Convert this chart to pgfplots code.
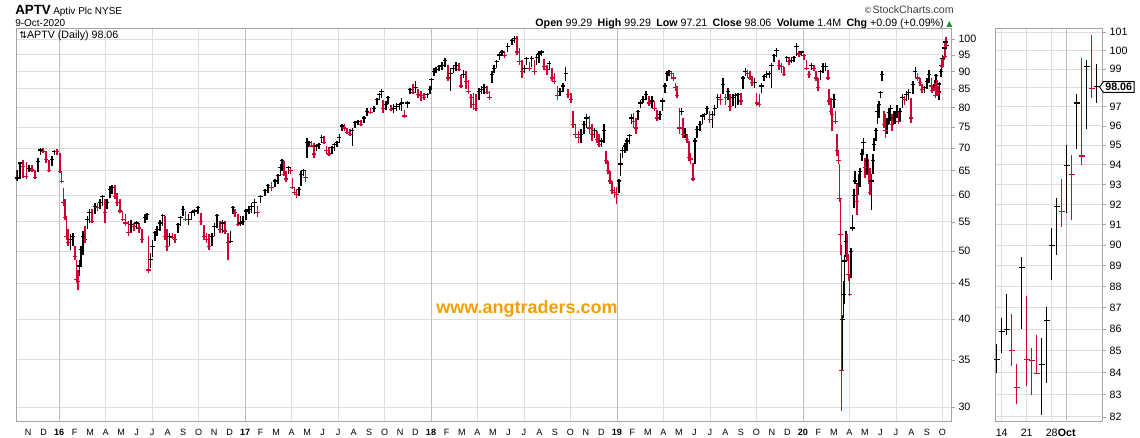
\documentclass[border=0pt]{standalone}
\usepackage{fontspec}
\setmainfont{Liberation Sans}
\newfontfamily\dejavu{DejaVu Sans}
\usepackage{pgfplots}
\usepackage{pgfplotstable}
\pgfplotsset{compat=1.18}
\usetikzlibrary{shapes.symbols}
\definecolor{barred}{RGB}{210,0,50}
\definecolor{gridc}{RGB}{222,222,222}
\definecolor{yearc}{RGB}{190,190,190}
\definecolor{framec}{RGB}{165,165,165}
\definecolor{wmark}{RGB}{245,160,0}
\definecolor{upgreen}{RGB}{40,140,40}

\pgfplotstableread{
t hi lo cl
2015.774 65.2 62.8 63.5
2015.789 67.0 63.2 66.7
2015.806 67.4 63.5 66.0
2015.823 67.0 63.2 63.9
2015.839 66.3 64.8 65.5
2015.855 66.3 64.8 65.2
2015.871 65.2 63.2 63.6
2015.885 67.8 64.8 67.0
2015.900 70.0 68.5 69.6
2015.914 70.1 68.9 69.3
2015.928 69.3 66.7 67.4
2015.944 67.4 64.8 65.0
2015.961 68.2 66.0 67.4
2015.975 69.6 68.5 69.3
2015.989 69.8 68.5 69.2
2016.004 68.9 64.5 64.9
2016.013 64.9 62.5 62.8
2016.022 61.5 57.9 58.6
2016.030 59.2 55.4 55.8
2016.039 56.1 51.9 52.5
2016.048 53.7 50.8 51.4
2016.061 52.8 50.2 51.9
2016.073 53.1 50.8 52.5
2016.084 50.8 48.6 49.1
2016.093 48.6 45.0 45.5
2016.100 47.0 44.0 45.2
2016.109 48.6 46.0 47.6
2016.118 50.8 47.6 50.2
2016.129 53.4 49.4 52.5
2016.140 54.2 51.4 51.9
2016.151 56.1 53.7 55.4
2016.163 57.3 54.8 56.7
2016.177 57.3 54.8 55.1
2016.192 58.6 56.4 57.9
2016.206 58.6 57.0 57.6
2016.219 59.2 57.3 58.6
2016.233 60.1 57.9 59.8
2016.246 59.2 54.8 56.7
2016.258 59.2 57.3 58.6
2016.272 61.8 59.5 61.1
2016.285 62.0 60.2 61.5
2016.299 62.0 59.2 59.8
2016.312 60.5 57.9 58.6
2016.326 59.2 56.7 57.0
2016.341 57.0 55.1 55.4
2016.357 56.4 54.2 54.8
2016.373 55.1 52.5 53.1
2016.387 55.4 53.1 54.5
2016.401 54.8 53.4 54.2
2016.416 55.1 53.7 54.8
2016.430 54.8 53.1 53.9
2016.446 53.7 51.4 51.9
2016.461 56.4 54.8 55.8
2016.473 56.7 55.4 56.4
2016.480 52.5 46.5 47.0
2016.491 49.6 47.3 48.6
2016.502 51.9 49.1 50.8
2016.514 53.4 51.6 53.1
2016.527 54.2 52.5 53.7
2016.541 55.4 53.4 54.8
2016.556 56.4 54.2 56.1
2016.568 56.1 51.9 52.5
2016.581 53.7 50.0 50.8
2016.593 53.1 50.8 52.5
2016.608 53.1 52.0 52.2
2016.624 52.8 51.4 51.9
2016.638 54.8 53.1 54.5
2016.652 56.1 54.2 55.8
2016.665 57.9 56.1 57.3
2016.679 57.0 55.1 55.4
2016.695 56.4 54.5 55.4
2016.711 57.0 55.4 56.7
2016.728 57.3 56.1 57.0
2016.746 57.9 56.4 57.6
2016.762 56.7 54.5 55.1
2016.778 54.5 51.9 52.5
2016.792 53.1 51.4 51.9
2016.806 52.8 50.2 50.8
2016.821 53.1 50.8 52.5
2016.835 54.8 52.5 54.2
2016.849 56.4 53.9 56.1
2016.864 55.1 53.1 53.7
2016.878 55.4 53.1 54.8
2016.892 55.1 52.8 53.4
2016.907 53.1 48.6 51.4
2016.921 53.4 51.4 51.6
2016.934 57.9 56.4 57.6
2016.946 57.3 55.8 56.7
2016.961 56.4 54.2 54.5
2016.975 56.1 54.2 54.8
2016.989 56.1 54.5 55.1
2017.005 57.3 55.4 57.0
2017.020 57.9 56.4 57.3
2017.034 58.6 56.7 57.9
2017.050 59.2 56.4 58.6
2017.066 57.9 55.8 56.7
2017.082 60.1 58.6 59.8
2017.106 61.2 59.9 60.9
2017.123 62.3 60.5 61.9
2017.141 62.6 60.9 61.6
2017.159 63.3 61.6 62.9
2017.177 64.3 62.3 64.0
2017.190 66.5 64.0 65.7
2017.199 67.6 65.0 67.2
2017.209 67.2 64.0 64.3
2017.220 65.0 62.6 63.3
2017.233 66.1 64.3 65.7
2017.243 65.7 64.3 65.0
2017.254 63.6 61.2 61.6
2017.265 61.6 60.2 60.5
2017.275 61.2 59.5 60.2
2017.288 61.6 59.9 61.2
2017.301 65.0 61.9 64.3
2017.313 65.4 64.0 65.0
2017.324 65.0 62.6 63.6
2017.333 72.5 67.9 71.3
2017.343 71.7 70.2 71.3
2017.356 71.7 70.2 70.5
2017.370 71.3 67.9 68.7
2017.383 70.9 69.4 70.5
2017.397 71.3 69.9 70.9
2017.411 73.1 71.3 72.5
2017.424 72.9 70.9 71.3
2017.436 70.5 68.7 69.4
2017.451 70.2 68.3 68.7
2017.465 70.5 68.7 70.2
2017.479 71.3 69.4 70.9
2017.494 71.7 70.2 71.3
2017.506 73.3 71.3 72.5
2017.519 75.7 74.1 75.3
2017.533 75.8 74.1 74.8
2017.547 74.8 73.3 73.7
2017.562 74.5 72.9 73.3
2017.576 74.8 70.5 74.1
2017.590 76.5 74.8 76.1
2017.606 76.9 75.5 76.5
2017.623 76.7 75.3 75.7
2017.639 77.8 76.1 77.3
2017.655 79.8 77.8 79.0
2017.673 79.8 78.2 78.6
2017.691 80.3 78.8 79.8
2017.707 82.4 80.7 82.1
2017.721 84.0 82.1 83.5
2017.732 84.9 82.6 84.4
2017.742 82.1 78.6 79.8
2017.757 81.7 79.4 80.7
2017.769 83.1 80.9 82.6
2017.784 80.7 79.0 79.4
2017.798 80.9 78.6 79.8
2017.814 81.2 79.0 80.3
2017.830 81.2 79.4 80.7
2017.841 82.4 79.0 81.2
2017.857 79.4 77.3 77.8
2017.873 81.7 79.8 81.2
2017.887 85.4 83.5 84.9
2017.902 86.3 83.5 84.0
2017.916 87.2 84.0 85.4
2017.930 84.9 82.6 83.5
2017.946 84.4 81.7 83.1
2017.962 84.0 82.1 82.6
2017.979 84.0 82.4 83.5
2017.993 85.8 83.5 84.9
2018.002 88.1 84.9 87.6
2018.014 91.0 88.6 90.0
2018.027 91.4 89.5 90.5
2018.043 91.9 90.0 91.4
2018.059 92.9 90.5 91.9
2018.075 94.0 91.4 93.4
2018.089 91.9 87.2 88.1
2018.104 91.0 84.4 89.5
2018.120 91.9 89.5 91.0
2018.134 92.7 90.0 91.9
2018.148 92.5 90.0 90.5
2018.159 89.1 85.4 85.8
2018.174 90.5 88.1 89.1
2018.186 90.0 84.9 87.2
2018.200 87.6 83.5 84.4
2018.215 83.5 79.8 82.6
2018.227 84.0 79.4 80.7
2018.242 83.5 79.0 79.8
2018.256 85.4 82.1 84.4
2018.270 85.8 83.5 84.9
2018.284 86.3 83.5 85.4
2018.299 85.8 83.5 84.0
2018.313 84.4 82.1 82.6
2018.326 90.0 86.8 89.1
2018.338 91.9 89.5 91.0
2018.352 93.3 91.1 92.9
2018.367 95.9 93.4 95.0
2018.381 96.6 94.8 95.9
2018.395 96.4 94.1 94.8
2018.411 98.7 95.9 97.6
2018.433 100.2 98.1 99.6
2018.447 101.0 98.9 100.2
2018.462 101.2 95.0 95.9
2018.474 97.1 91.9 92.9
2018.488 93.4 88.1 90.0
2018.501 91.9 89.5 91.0
2018.513 94.3 91.9 93.8
2018.528 92.9 90.0 91.0
2018.540 94.8 91.4 93.8
2018.555 93.4 89.1 90.0
2018.567 95.3 91.9 94.3
2018.581 96.4 92.5 95.3
2018.594 96.6 94.8 95.9
2018.606 93.8 90.5 91.4
2018.621 91.9 89.1 90.5
2018.635 93.1 90.5 92.4
2018.648 91.0 87.2 88.1
2018.662 89.5 86.3 87.2
2018.678 85.8 82.1 83.1
2018.692 85.4 83.1 84.4
2018.707 86.8 84.2 85.8
2018.723 91.2 87.2 89.5
2018.735 84.9 82.6 83.5
2018.750 84.0 81.2 82.1
2018.762 79.0 74.8 75.7
2018.776 75.7 72.5 73.3
2018.791 74.1 71.3 72.5
2018.805 74.5 71.3 73.3
2018.821 76.5 73.3 75.7
2018.835 78.3 74.8 77.3
2018.850 77.8 73.3 74.8
2018.864 75.7 71.7 73.3
2018.878 74.8 72.5 74.1
2018.891 74.1 71.3 72.1
2018.903 73.3 70.2 70.9
2018.916 72.5 70.2 71.7
2018.928 75.7 71.3 74.1
2018.939 69.4 66.5 67.2
2018.950 67.2 64.3 65.0
2018.961 65.0 62.3 62.9
2018.973 62.9 60.2 60.9
2018.986 61.6 59.5 60.5
2018.996 61.6 58.3 60.2
2019.009 63.3 60.5 62.9
2019.018 69.0 64.0 66.5
2019.029 70.2 67.9 69.4
2019.041 71.3 69.0 70.5
2019.054 72.5 69.4 71.7
2019.066 73.3 70.9 72.9
2019.077 78.2 75.7 77.3
2019.088 78.6 74.8 76.5
2019.100 77.3 73.3 74.8
2019.113 79.4 76.9 79.0
2019.125 82.1 79.8 81.2
2019.140 83.1 81.2 82.1
2019.156 84.4 82.1 83.5
2019.170 83.1 80.3 81.2
2019.186 83.1 79.8 81.7
2019.200 81.7 79.0 79.8
2019.215 79.4 76.5 77.3
2019.229 79.0 76.9 78.2
2019.243 82.6 79.0 81.7
2019.256 86.8 84.0 85.8
2019.268 90.2 87.2 89.5
2019.279 90.5 88.6 90.0
2019.292 90.2 88.1 89.5
2019.302 89.5 87.2 88.1
2019.313 86.8 84.4 85.4
2019.322 85.8 82.6 83.1
2019.335 79.8 73.3 74.8
2019.345 79.8 78.0 79.0
2019.354 77.3 72.5 73.3
2019.365 74.8 72.3 73.3
2019.376 73.3 71.3 72.1
2019.386 71.7 67.2 67.9
2019.395 69.0 66.5 67.6
2019.408 66.6 62.9 63.3
2019.417 72.5 66.5 71.7
2019.429 75.3 72.5 74.5
2019.444 76.5 74.1 75.7
2019.458 78.2 75.7 77.8
2019.470 78.6 76.9 78.2
2019.483 80.3 78.2 79.8
2019.497 79.0 76.1 76.9
2019.512 79.0 74.8 78.2
2019.524 80.7 77.8 79.8
2019.540 83.5 79.8 82.6
2019.555 83.5 80.7 82.1
2019.569 88.1 83.5 86.3
2019.583 83.5 80.7 82.6
2019.596 85.4 82.1 84.4
2019.608 83.5 79.0 80.3
2019.623 83.5 80.3 82.6
2019.637 84.0 79.8 83.1
2019.651 84.0 80.7 83.5
2019.665 84.0 80.7 81.7
2019.676 88.6 84.9 88.1
2019.689 91.0 88.6 90.0
2019.701 90.5 88.1 89.5
2019.714 90.0 87.6 88.1
2019.726 88.6 85.8 86.8
2019.739 88.1 85.4 86.8
2019.750 84.0 80.3 81.2
2019.764 83.5 80.0 80.7
2019.776 86.8 84.0 85.8
2019.789 89.1 87.2 88.6
2019.803 90.0 88.1 89.1
2019.818 90.0 88.1 89.5
2019.830 92.4 85.4 91.9
2019.843 95.3 92.9 94.8
2019.857 97.2 94.3 96.4
2019.871 93.4 90.5 91.9
2019.884 92.4 89.5 91.4
2019.896 91.4 88.6 89.1
2019.911 94.8 92.9 94.3
2019.925 94.3 91.9 92.9
2019.937 94.3 92.4 93.4
2019.950 94.8 92.9 94.3
2019.964 98.9 94.8 97.6
2019.979 96.4 94.3 95.3
2019.991 96.4 94.8 95.9
2020.005 95.3 93.4 94.8
2020.018 93.4 90.5 91.0
2020.032 90.0 88.1 89.1
2020.045 92.4 90.5 91.9
2020.057 91.9 90.0 91.0
2020.070 90.0 87.2 88.1
2020.081 88.1 84.4 85.4
2020.093 90.5 87.6 90.0
2020.107 92.4 89.5 91.4
2020.120 92.4 90.0 91.4
2020.132 90.5 87.6 88.1
2020.140 84.9 80.7 81.7
2020.148 82.6 78.2 79.0
2020.156 79.8 74.1 78.2
2020.165 83.5 79.8 82.1
2020.174 79.0 75.7 76.5
2020.181 73.3 68.3 69.4
2020.190 69.4 66.5 67.2
2020.195 66.5 58.8 59.4
2020.200 59.4 49.4 52.8
2020.206 51.0 29.6 33.8
2020.211 40.6 33.8 40.0
2020.216 45.3 40.1 43.4
2020.222 49.4 42.0 48.4
2020.229 53.3 49.0 51.6
2020.236 52.8 48.4 49.4
2020.243 49.4 45.3 46.3
2020.250 46.3 43.2 43.4
2020.258 50.5 45.8 49.9
2020.265 56.3 53.3 53.9
2020.272 61.2 57.5 60.0
2020.279 64.9 62.3 62.9
2020.288 62.3 56.3 58.8
2020.297 64.3 60.0 62.3
2020.306 65.7 61.6 64.9
2020.315 69.8 67.2 68.7
2020.324 72.5 68.7 71.3
2020.333 67.9 63.6 65.7
2020.342 68.7 64.3 67.2
2020.351 67.6 62.3 64.3
2020.358 65.7 60.0 60.6
2020.367 64.3 57.2 62.9
2020.374 68.7 64.3 67.2
2020.381 72.5 69.4 70.9
2020.390 74.8 71.7 74.1
2020.399 80.7 75.7 79.0
2020.408 81.7 77.3 80.7
2020.415 84.4 82.4 84.0
2020.424 90.0 87.2 89.1
2020.433 79.0 74.8 75.7
2020.442 78.2 72.5 74.1
2020.451 77.3 73.3 75.7
2020.460 79.8 75.7 78.6
2020.469 80.7 76.5 79.8
2020.478 78.2 74.1 75.7
2020.487 79.0 75.7 77.3
2020.496 79.0 75.7 78.2
2020.504 80.7 77.3 79.0
2020.513 79.0 75.7 76.5
2020.522 79.8 76.5 79.0
2020.533 83.5 79.8 82.6
2020.544 83.1 80.7 82.1
2020.555 84.4 81.7 83.5
2020.567 84.9 82.1 84.0
2020.580 82.6 76.1 77.3
2020.590 87.2 83.5 86.3
2020.603 91.4 88.1 90.0
2020.615 89.5 87.2 88.1
2020.628 88.1 85.8 86.8
2020.640 86.3 84.0 84.9
2020.653 85.8 84.0 85.4
2020.665 88.1 84.9 87.2
2020.676 90.5 86.8 89.1
2020.689 88.1 84.9 85.8
2020.694 86.0 84.0 84.6
2020.702 86.5 84.9 85.9
2020.705 87.65 85.7 86.0
2020.708 86.7 84.3 85.0
2020.711 84.4 82.6 83.3
2020.713 89.4 86.0 88.9
2020.721 87.55 83.4 84.6
2020.724 85.1 83.0 84.55
2020.727 85.7 83.95 83.95
2020.730 85.6 82.1 84.35
2020.732 87.05 83.5 86.4
2020.740 90.85 88.3 90.0
2020.743 92.3 89.5 91.9
2020.746 93.3 90.9 91.65
2020.749 95.0 91.6 93.95
2020.751 94.5 91.25 93.5
2020.760 97.65 94.8 97.2
2020.762 99.6 94.0 94.45
2020.765 99.5 95.85 99.15
2020.768 100.85 97.45 97.95
2020.770 99.29 97.21 98.06
}\maindata

\pgfplotstablecreatecol[create col/assign/.code={%
  \ifnum\pgfplotstablerow=0
    \def\myentry{1}%
  \else
    \pgfmathparse{\thisrow{cl}<\prevrow{cl} ? 0 : 1}%
    \let\myentry\pgfmathresult
  \fi
  \pgfkeyslet{/pgfplots/table/create col/next content}\myentry}]{up}{\maindata}

\pgfplotstableread{
i hi lo cl up
0 85.3 84.0 84.6 1
1 86.5 84.9 85.9 1
2 87.65 85.7 86.0 1
3 86.7 84.3 85.0 0
4 84.4 82.6 83.3 0
5 89.4 86.0 88.9 1
6 87.55 83.4 84.6 0
7 85.1 83.0 84.55 0
8 85.7 83.95 83.95 0
9 85.6 82.1 84.35 1
10 87.05 83.5 86.4 1
11 90.85 88.3 90.0 1
12 92.3 89.5 91.9 1
13 93.3 90.9 91.65 0
14 95.0 91.6 93.95 1
15 94.5 91.25 93.5 0
16 97.65 94.8 97.2 1
17 99.6 94.0 94.45 0
18 99.5 95.85 99.15 1
19 100.85 97.45 97.95 0
20 99.29 97.21 98.06 1
}\sidedata

\begin{document}
\begin{tikzpicture}
\path[use as bounding box] (0,0) rectangle (855bp,-328.5bp);

\begin{axis}[
  at={(12.2bp,-21.5bp)}, anchor=north west,
  scale only axis, width=701.5bp, height=294.5bp,
  xmin=2015.769, xmax=2020.798,
  ymode=log, ymin=28.63, ymax=103.55,
  axis line style={framec, line width=0.8bp},
  xtick={2015.83333,2015.91667,...,2020.76},
  xticklabels={N,D,\textbf{16},F,M,A,M,J,J,A,S,O,N,D,\textbf{17},F,M,A,M,J,J,A,S,O,N,D,\textbf{18},F,M,A,M,J,J,A,S,O,N,D,\textbf{19},F,M,A,M,J,J,A,S,O,N,D,\textbf{20},F,M,A,M,J,J,A,S,O},
  xtick style={draw=none},
  x tick label style={font=\fontsize{6.8bp}{7bp}\selectfont, inner sep=0pt, anchor=north, yshift=-3.5bp},
  minor xtick={2016.25,2016.5,2016.75,2017.25,2017.5,2017.75,2018.25,2018.5,2018.75,2019.25,2019.5,2019.75,2020.25,2020.5,2020.75},
  xminorgrids, minor grid style={gridc, line width=0.75bp},
  extra x ticks={2016,2017,2018,2019,2020}, extra x tick labels={},
  extra x tick style={grid=major, major grid style={yearc, line width=0.75bp}},
  ytick={30,35,40,45,50,55,60,65,70,75,80,85,90,95,100},
  yticklabels={30,35,40,45,50,55,60,65,70,75,80,85,90,95,100},
  ymajorgrids, major grid style={gridc, line width=0.75bp},
  yticklabel pos=right, ytick pos=right, tick align=outside,
  major tick length=2.5bp, ytick style={framec, line width=0.6bp},
  y tick label style={font=\fontsize{8bp}{9bp}\selectfont, anchor=west, inner sep=0pt, xshift=2.5bp},
  clip=true,
]
\addplot[only marks, mark=-, mark size=1.6bp, mark options={black, line width=0.9bp},
  x filter/.expression={\thisrow{up}>0.5 ? x : nan},
  error bars/.cd, y dir=both, y explicit, error mark=none,
  error bar style={black, line width=1.2bp}]
  table[x=t, y=cl, y error plus expr=\thisrow{hi}-\thisrow{cl}, y error minus expr=\thisrow{cl}-\thisrow{lo}]{\maindata};
\addplot[only marks, mark=-, mark size=1.6bp, mark options={barred, line width=0.9bp},
  x filter/.expression={\thisrow{up}<0.5 ? x : nan},
  error bars/.cd, y dir=both, y explicit, error mark=none,
  error bar style={barred, line width=1.2bp}]
  table[x=t, y=cl, y error plus expr=\thisrow{hi}-\thisrow{cl}, y error minus expr=\thisrow{cl}-\thisrow{lo}]{\maindata};
\end{axis}

\begin{axis}[
  at={(746.8bp,-21.5bp)}, anchor=north west,
  scale only axis, width=80.25bp, height=295bp,
  xmin=-0.2, xmax=21.2,
  ymode=log, ymin=81.78, ymax=101.2,
  axis line style={framec, line width=0.8bp},
  xtick={1,6,11}, xticklabels={14,21,28},
  xtick style={draw=none},
  xmajorgrids,
  extra x ticks={14}, extra x tick labels={\textbf{Oct}},
  extra x tick style={grid=major, major grid style={yearc, line width=0.75bp}},
  x tick label style={font=\fontsize{8bp}{9bp}\selectfont, inner sep=0pt, anchor=north, yshift=-3bp},
  ytick={82,83,84,85,86,87,88,89,90,91,92,93,94,95,96,97,98,99,100,101},
  yticklabels={82,83,84,85,86,87,88,89,90,91,92,93,94,95,96,97,{},99,100,101},
  ymajorgrids, major grid style={gridc, line width=0.75bp},
  yticklabel pos=right, ytick pos=right, tick align=outside,
  major tick length=2.5bp, ytick style={framec, line width=0.6bp},
  y tick label style={font=\fontsize{8bp}{9bp}\selectfont, anchor=west, inner sep=0pt, xshift=2.5bp},
  clip=false,
]
\addplot[only marks, mark=-, mark size=2.3bp, mark options={black, line width=0.8bp},
  x filter/.expression={\thisrow{up}>0.5 ? x : nan},
  error bars/.cd, y dir=both, y explicit, error mark=none,
  error bar style={black, line width=0.8bp}]
  table[x=i, y=cl, y error plus expr=\thisrow{hi}-\thisrow{cl}, y error minus expr=\thisrow{cl}-\thisrow{lo}]{\sidedata};
\addplot[only marks, mark=-, mark size=2.3bp, mark options={barred, line width=0.8bp},
  x filter/.expression={\thisrow{up}<0.5 ? x : nan},
  error bars/.cd, y dir=both, y explicit, error mark=none,
  error bar style={barred, line width=0.8bp}]
  table[x=i, y=cl, y error plus expr=\thisrow{hi}-\thisrow{cl}, y error minus expr=\thisrow{cl}-\thisrow{lo}]{\sidedata};
\end{axis}

\begin{scope}[x=0.75bp, y=-0.75bp]
\node[anchor=base west, inner sep=0pt, font=\bfseries\fontsize{10bp}{11bp}\selectfont] at (15,14.5) {APTV};
\node[anchor=base west, inner sep=0pt, font=\fontsize{7.5bp}{8bp}\selectfont] at (53,14.5) {Aptiv Plc NYSE};
\node[anchor=base west, inner sep=0pt, font=\fontsize{7.5bp}{8bp}\selectfont] at (15,26.5) {9-Oct-2020};
\node[anchor=base west, inner sep=0pt, font=\fontsize{8bp}{9bp}\selectfont] at (19,38.5) {{\dejavu\fontsize{7bp}{8bp}\selectfont ⇅}APTV (Daily) 98.06};
\node[anchor=base east, inner sep=0pt, font=\fontsize{8bp}{9bp}\selectfont, text=black!75] at (954,13.5) {{\dejavu\fontsize{6.5bp}{8bp}\selectfont ©}StockCharts.com};
\node[anchor=base east, inner sep=0pt, font=\fontsize{8bp}{9bp}\selectfont] at (944,26.5) {\textbf{Open} 99.29\enspace\textbf{High} 99.29\enspace\textbf{Low} 97.21\enspace\textbf{Close} 98.06\enspace\textbf{Volume} 1.4M\enspace\textbf{Chg} +0.09 (+0.09\%)};
\node[anchor=base west, inner sep=0pt, text=upgreen] at (946,26) {\dejavu\fontsize{6bp}{7bp}\selectfont ▲};
\node[anchor=center, inner sep=0pt, font=\bfseries\fontsize{13.5bp}{15bp}\selectfont, text=wmark] at (527,309) {www.angtraders.com};
\node[signal, signal to=west, signal pointer angle=110, draw=black, line width=0.7bp, fill=white, inner xsep=1.5bp, inner ysep=1.2bp,
  font=\bfseries\fontsize{8bp}{9bp}\selectfont, anchor=west] at (1099,87) {98.06};
\end{scope}
\end{tikzpicture}
\end{document}
